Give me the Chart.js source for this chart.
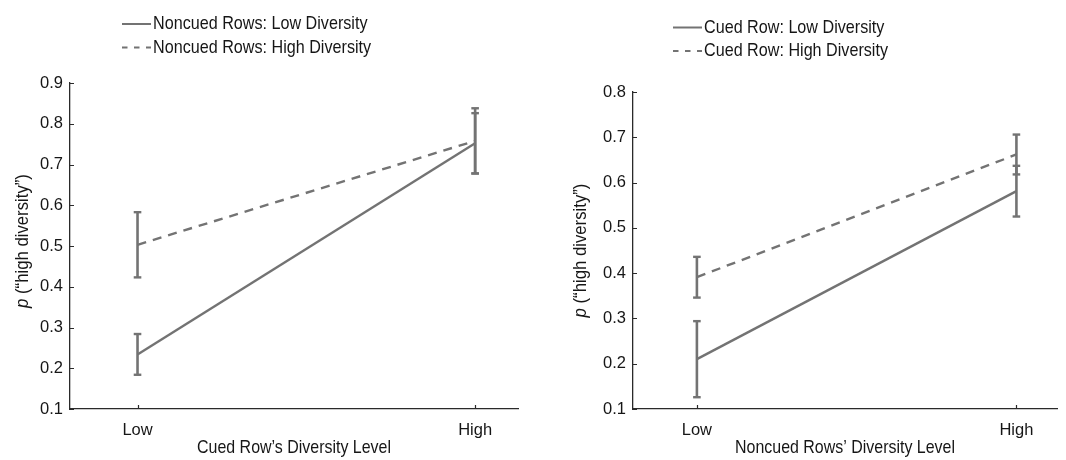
<!DOCTYPE html>
<html>
<head>
<meta charset="utf-8">
<script src="https://cdn.jsdelivr.net/npm/chart.js@4/dist/chart.umd.min.js"></script>
<style>
  html, body { margin: 0; padding: 0; background: #ffffff; }
  #wrap { position: relative; width: 1066px; height: 460px; }
  canvas { position: absolute; top: 0; }
</style>
</head>
<body>
<div id="wrap">
  <canvas id="leftPanel" width="533" height="460" style="left:0"></canvas>
  <canvas id="rightPanel" width="533" height="460" style="left:533px"></canvas>
</div>
<script>
// ---- data ----
const levels = ['Low', 'High'];

const leftSeriesNames = ['Noncued Rows: Low Diversity', 'Noncued Rows: High Diversity'];
const leftLowDiv = [0.234, 0.752];
const leftLowDivErr = [0.050, 0.074];
const leftHighDiv = [0.503, 0.758];
const leftHighDivErr = [0.080, 0.080];
const leftYTicks = [0.1, 0.2, 0.3, 0.4, 0.5, 0.6, 0.7, 0.8, 0.9];
const leftXTitle = 'Cued Row\u2019s Diversity Level';

const rightSeriesNames = ['Cued Row: Low Diversity', 'Cued Row: High Diversity'];
const rightLowDiv = [0.210, 0.581];
const rightLowDivErr = [0.084, 0.056];
const rightHighDiv = [0.391, 0.662];
const rightHighDivErr = [0.045, 0.044];
const rightYTicks = [0.1, 0.2, 0.3, 0.4, 0.5, 0.6, 0.7, 0.8];
const rightXTitle = 'Noncued Rows\u2019 Diversity Level';

const yTitleItalic = 'p';
const yTitleRest = ' (\u201chigh diversity\u201d)';

// ---- styling ----
const GRAY = '#737373';
const TEXT = '#161616';
const AXIS = '#2a2a2a';
const SANS = '"Liberation Sans", Arial, Helvetica, sans-serif';
const DASH = [9, 7];
const NARROW_SCALE = 0.85;   // horizontal squeeze for condensed-looking labels

// draw text squeezed horizontally around its anchor point
function narrowText(ctx, text, x, y, align, sx) {
  const w = ctx.measureText(text).width * sx;
  let left = x;
  if (align === 'center') left = x - w / 2;
  else if (align === 'right') left = x - w;
  ctx.save();
  ctx.translate(left, y);
  ctx.scale(sx, 1);
  ctx.textAlign = 'left';
  ctx.fillText(text, 0, 0);
  ctx.restore();
  return w;
}

// one line per series plus a vertical error bar (with caps) at each level
function seriesDatasets(name, means, errs, dashed) {
  const main = {
    label: name,
    inLegend: true,
    data: means.map((m, i) => ({ x: i, y: m })),
    showLine: true,
    borderColor: GRAY,
    borderWidth: 2.4,
    borderDash: dashed ? DASH : [],
    pointRadius: 0
  };
  const bars = means.map((m, i) => ({
    label: name + ' \u00b1 SE (' + levels[i] + ')',
    data: [{ x: i, y: m - errs[i] }, { x: i, y: m + errs[i] }],
    showLine: true,
    borderColor: GRAY,
    borderWidth: 2.6,
    pointStyle: 'line',
    pointRadius: 3.8,
    pointBorderWidth: 2.4,
    pointBorderColor: GRAY,
    pointBackgroundColor: GRAY
  }));
  return [main, ...bars];
}

// short tick marks pointing into the plot area
const inwardTicks = {
  id: 'inwardTicks',
  afterDraw(chart, args, opts) {
    const { ctx } = chart;
    const xs = chart.scales.x, ys = chart.scales.y;
    ctx.save();
    ctx.strokeStyle = opts.color;
    ctx.lineWidth = opts.width;
    ctx.beginPath();
    ys.ticks.forEach(t => {
      const py = Math.round(ys.getPixelForValue(t.value)) + 0.5;
      ctx.moveTo(xs.left, py);
      ctx.lineTo(xs.left + opts.length, py);
    });
    xs.ticks.forEach(t => {
      const px = Math.round(xs.getPixelForValue(t.value)) + 0.5;
      ctx.moveTo(px, ys.bottom);
      ctx.lineTo(px, ys.bottom - opts.length);
    });
    ctx.stroke();
    ctx.restore();
  }
};

// stacked line-sample legend above the plot
const lineLegend = {
  id: 'lineLegend',
  afterDraw(chart, args, opts) {
    const { ctx } = chart;
    const items = chart.data.datasets.filter(d => d.inLegend);
    ctx.save();
    ctx.font = opts.font;
    ctx.textBaseline = 'middle';
    items.forEach((d, i) => {
      const yy = opts.y + i * opts.rowGap;
      ctx.strokeStyle = d.borderColor;
      ctx.lineWidth = opts.lineWidth;
      ctx.setLineDash(d.borderDash && d.borderDash.length ? opts.dash : []);
      ctx.beginPath();
      ctx.moveTo(opts.x, yy);
      ctx.lineTo(opts.x + opts.sample, yy);
      ctx.stroke();
      ctx.setLineDash([]);
      ctx.fillStyle = opts.color;
      narrowText(ctx, d.label, opts.x + opts.sample + opts.gap, yy, 'left', opts.sx);
    });
    ctx.restore();
  }
};

// rotated y-axis title with an italic leading symbol
const yTitle = {
  id: 'yTitle',
  afterDraw(chart, args, opts) {
    const { ctx, chartArea } = chart;
    ctx.save();
    ctx.translate(opts.x, (chartArea.top + chartArea.bottom) / 2 + opts.dy);
    ctx.rotate(-Math.PI / 2);
    ctx.fillStyle = opts.color;
    ctx.textBaseline = 'middle';
    ctx.font = 'italic ' + opts.font;
    const w1 = ctx.measureText(opts.italic).width * opts.sx;
    ctx.font = opts.font;
    const w2 = ctx.measureText(opts.rest).width * opts.sx;
    const x0 = -(w1 + w2) / 2;
    ctx.font = 'italic ' + opts.font;
    narrowText(ctx, opts.italic, x0, 0, 'left', opts.sx);
    ctx.font = opts.font;
    narrowText(ctx, opts.rest, x0 + w1, 0, 'left', opts.sx);
    ctx.restore();
  }
};

// x-axis title centred under the plot area
const xTitle = {
  id: 'xTitle',
  afterDraw(chart, args, opts) {
    const { ctx, chartArea } = chart;
    ctx.save();
    ctx.font = opts.font;
    ctx.fillStyle = opts.color;
    ctx.textBaseline = 'middle';
    narrowText(ctx, opts.text, (chartArea.left + chartArea.right) / 2, opts.y, 'center', opts.sx);
    ctx.restore();
  }
};

function makePanel(canvasId, names, lowMeans, lowErrs, highMeans, highErrs, yTicks, xTitleText, lay) {
  const datasets = [
    ...seriesDatasets(names[0], lowMeans, lowErrs, false),
    ...seriesDatasets(names[1], highMeans, highErrs, true)
  ];
  return new Chart(document.getElementById(canvasId), {
    type: 'scatter',
    data: { datasets },
    options: {
      responsive: false,
      devicePixelRatio: 1,
      animation: false,
      events: [],
      layout: { padding: { top: lay.top, right: lay.right, bottom: 0, left: lay.left } },
      plugins: {
        legend: { display: false },
        tooltip: { enabled: false },
        lineLegend: {
          x: lay.legendX, y: lay.legendY, rowGap: 23.5, sample: 29, gap: 2,
          lineWidth: 2, dash: [5.5, 6.5], color: TEXT,
          font: '19px ' + SANS, sx: NARROW_SCALE
        },
        yTitle: {
          x: lay.yTitleX, dy: lay.yTitleDy, italic: yTitleItalic, rest: yTitleRest,
          color: TEXT, font: '19px ' + SANS, sx: 0.88
        },
        xTitle: {
          text: xTitleText, y: 447.5, color: TEXT, font: '19px ' + SANS, sx: 0.84
        },
        inwardTicks: { color: AXIS, width: 1.2, length: 4 }
      },
      scales: {
        x: {
          type: 'linear',
          min: -0.2,
          max: 1.127,
          afterBuildTicks: s => { s.ticks = levels.map((_, i) => ({ value: i })); },
          afterFit: s => { s.height = 51; },
          grid: { display: false, drawTicks: false },
          border: { display: true, color: AXIS, width: 1.3 },
          ticks: {
            padding: 12,
            color: TEXT,
            font: { family: SANS, size: 16.5 },
            callback: (v, i) => levels[i]
          }
        },
        y: {
          type: 'linear',
          min: yTicks[0],
          max: yTicks[yTicks.length - 1],
          afterBuildTicks: s => { s.ticks = yTicks.map(v => ({ value: v })); },
          afterFit: s => { s.width = 70; },
          grid: { display: false, drawTicks: false },
          border: { display: true, color: AXIS, width: 1.3 },
          ticks: {
            padding: 7,
            color: TEXT,
            font: { family: SANS, size: 16.5 },
            callback: v => Number(v).toFixed(1)
          }
        }
      }
    },
    plugins: [inwardTicks, lineLegend, yTitle, xTitle]
  });
}

makePanel('leftPanel', leftSeriesNames, leftLowDiv, leftLowDivErr, leftHighDiv, leftHighDivErr,
  leftYTicks, leftXTitle,
  { top: 83, right: 15, left: 0, legendX: 122, legendY: 24, yTitleX: 22.5, yTitleDy: -5 });

makePanel('rightPanel', rightSeriesNames, rightLowDiv, rightLowDivErr, rightHighDiv, rightHighDivErr,
  rightYTicks, rightXTitle,
  { top: 92, right: 9, left: 30, legendX: 140, legendY: 27.5, yTitleX: 48, yTitleDy: 0 });
</script>
</body>
</html>
